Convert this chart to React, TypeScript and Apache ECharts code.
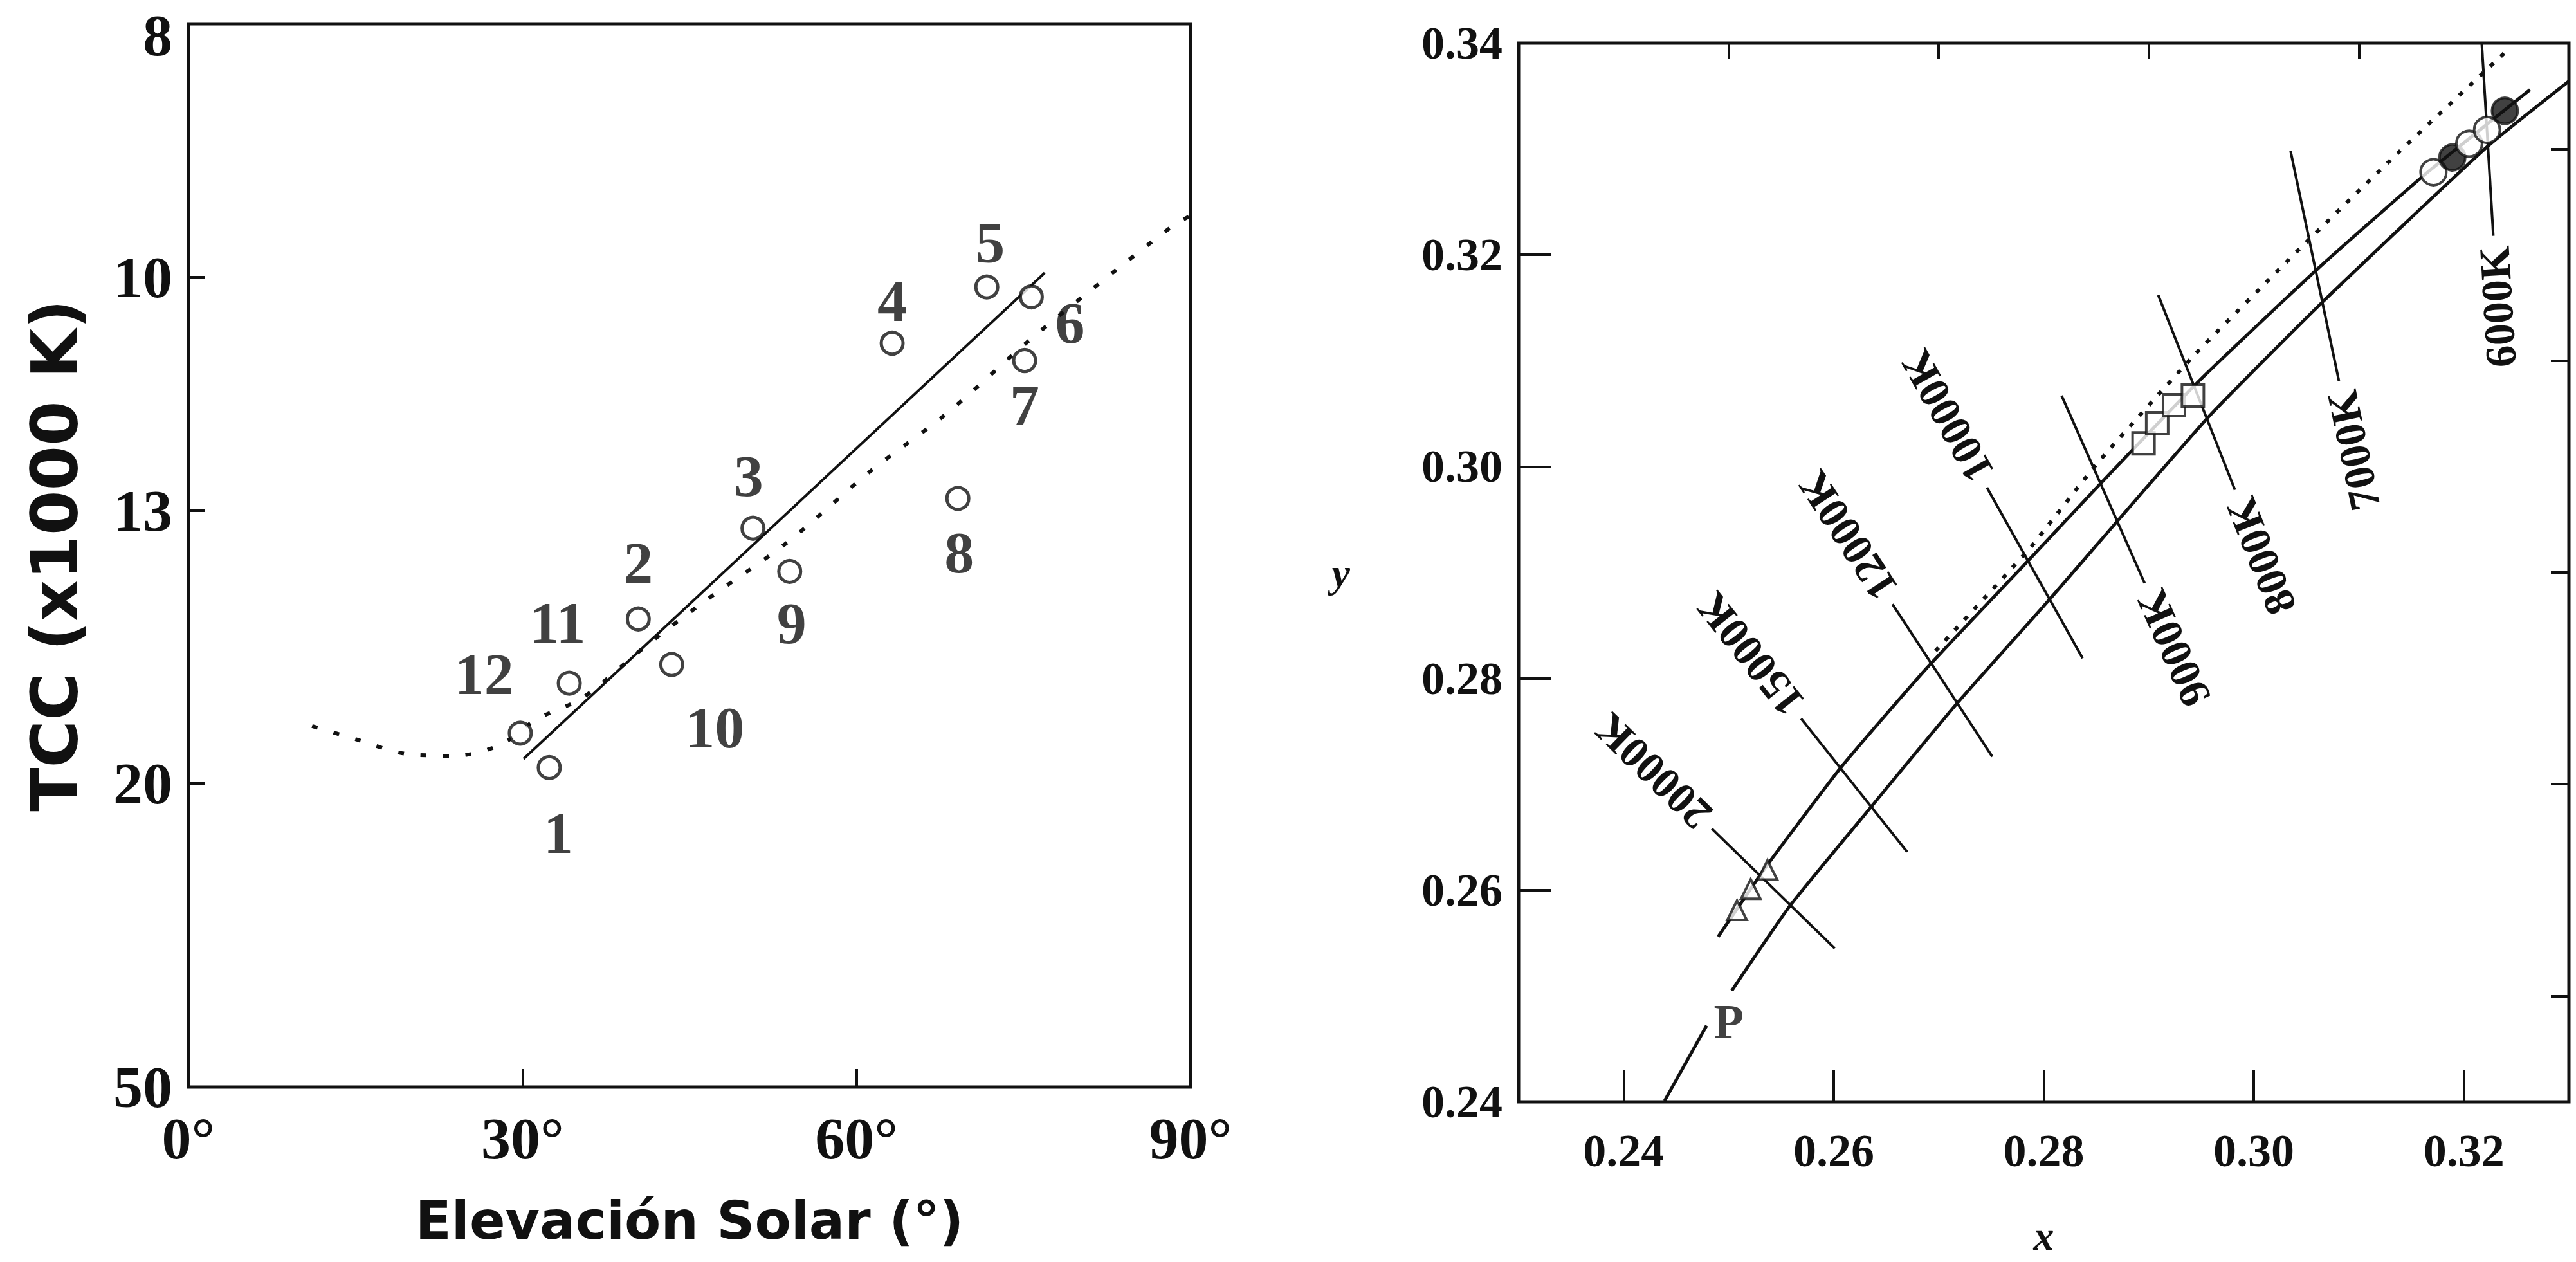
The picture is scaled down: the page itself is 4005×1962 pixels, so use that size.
import React, { useEffect, useRef } from "react";
import * as echarts from "echarts";

// ---------- Left panel: daylight colour temperature vs. solar elevation ----------
const pointIds = ["1", "2", "3", "4", "5", "6", "7", "8", "9", "10", "11", "12"];
const elevation = [32.4, 40.4, 50.7, 63.2, 71.7, 75.7, 75.1, 69.1, 54.0, 43.4, 34.2, 29.8];
const tcc = [19.4, 15.1, 13.3, 10.7, 10.1, 10.2, 10.9, 12.8, 14.1, 16.2, 16.7, 18.2];

// straight fit through the measurements
const fitElev = [30.1, 76.9];
const fitTcc = [19.08, 9.96];

// dotted reference curve
const curveElev = [11.1, 15.1, 19.5, 24.0, 28.0, 31.3, 35.4, 41.0, 46.6, 53.8, 61.2, 68.0, 75.5, 81.4, 88.4, 90];
const curveTcc = [17.97, 18.41, 18.9, 18.97, 18.59, 17.75, 17.11, 15.75, 14.67, 13.55, 12.38, 11.57, 10.67, 10.1, 9.52, 9.43];

const elevTicks = [0, 30, 60, 90];
const tccTicks = [8, 10, 13, 20, 50];

// label offsets (px) for the point numbers
const idOffsets = [
  [14, 102], [0, -87], [-7, -81], [0, -66], [5, -69], [60, 41],
  [0, 69], [2, 84], [3, 81], [67, 98], [-18, -94], [-56, -92],
];

// ---------- Right panel: CIE 1931 chromaticity (x, y) ----------
const xTicksMajor = [0.24, 0.26, 0.28, 0.3, 0.32];
const xTicksMinor = [0.25, 0.27, 0.29, 0.31];
const yTicksLabel = [0.24, 0.26, 0.28, 0.3, 0.32, 0.34];
const yTicksMajor = [0.26, 0.28, 0.3, 0.32];
const yTicksMinor = [0.25, 0.27, 0.29, 0.31, 0.33];

// Planckian locus (broken at the "P" mark)
const planckTailX = [0.2439, 0.2479];
const planckTailY = [0.2401, 0.2472];
const planckX = [0.2503, 0.2559, 0.2636, 0.2718, 0.2805, 0.2956, 0.3067, 0.3222, 0.33];
const planckY = [0.2505, 0.2586, 0.2679, 0.2777, 0.2874, 0.3046, 0.3157, 0.3302, 0.3364];

// upper (daylight) locus
const dayX = [0.249, 0.2537, 0.2607, 0.2688, 0.2786, 0.2856, 0.295, 0.3061, 0.3163, 0.3263];
const dayY = [0.2556, 0.2624, 0.2716, 0.2809, 0.2912, 0.2986, 0.3083, 0.3187, 0.3276, 0.3356];

// dotted locus
const dotX = [0.2697, 0.2786, 0.285, 0.2944, 0.305, 0.3137, 0.324];
const dotY = [0.2826, 0.2922, 0.3002, 0.3106, 0.3212, 0.3296, 0.3392];

// iso-temperature lines
const isoNames = ["20000K", "15000K", "12000K", "10000K", "9000K", "8000K", "7000K", "6000K"];
const isoX1 = [0.2484, 0.2569, 0.2656, 0.2746, 0.2817, 0.2909, 0.3035, 0.3217];
const isoY1 = [0.2658, 0.2762, 0.287, 0.298, 0.3067, 0.3162, 0.3298, 0.34];
const isoX2 = [0.2601, 0.267, 0.2751, 0.2837, 0.2896, 0.2982, 0.3081, 0.3228];
const isoY2 = [0.2545, 0.2636, 0.2726, 0.2819, 0.289, 0.2978, 0.3081, 0.3218];
const isoLabelAtTop = [true, true, true, true, false, false, false, false];

// measured chromaticities
const triX = [0.2537, 0.2521, 0.2508];
const triY = [0.2619, 0.2601, 0.2581];
const sqX = [0.2895, 0.2908, 0.2924, 0.2942];
const sqY = [0.3022, 0.3041, 0.3058, 0.3067];
const circX = [0.3171, 0.3189, 0.3205, 0.3222, 0.3239];
const circY = [0.3278, 0.3292, 0.3305, 0.3318, 0.3336];
const circFilled = [false, true, false, false, true];

const pMark = [0.25, 0.2476];

const INK = "#111";
const SERIF = "'Liberation Serif', 'Times New Roman', serif";
const SANS = "'DejaVu Sans', 'Liberation Sans', sans-serif";

const zip = (a: number[], b: number[]) => a.map((v, i) => [v, b[i]]);
const mired = (t: number) => 1000 / t;

function buildOption(): any {
  const tickStyle = { color: INK, width: 4 };
  const leftTickFont = { fontFamily: SERIF, fontSize: 92, fontWeight: "bold", color: INK, lineHeight: 64 };
  const topTcc = tccTicks[0];
  const frame = {
    show: true, borderColor: INK, borderWidth: 5, backgroundColor: "transparent",
    containLabel: false, outerBoundsMode: "none",
  };
  return {
    animation: false,
    backgroundColor: "#fff",
    grid: [
      { left: 293, top: 37, width: 1558, height: 1653, ...frame },
      { left: 2361, top: 67, width: 1633, height: 1646, ...frame },
    ],
    xAxis: [
      {
        gridIndex: 0, type: "value", min: 0, max: 90, interval: 30,
        axisLine: { show: false }, splitLine: { show: false },
        axisTick: { show: true, inside: true, length: 28, lineStyle: tickStyle, customValues: elevTicks },
        axisLabel: {
          customValues: elevTicks, formatter: (v: number) => `${v}°`, color: INK,
          fontFamily: SERIF, fontSize: 92, fontWeight: "bold", margin: 34,
        },
        name: "Elevación Solar (°)", nameLocation: "middle", nameGap: 166,
        nameTextStyle: { fontFamily: SANS, fontSize: 82, color: INK, fontWeight: "bold" },
      },
      {
        gridIndex: 1, type: "value", min: 0.23, max: 0.33,
        axisLine: { show: false }, splitLine: { show: false },
        axisTick: { show: true, inside: true, length: 50, lineStyle: tickStyle, customValues: xTicksMajor },
        axisLabel: {
          customValues: xTicksMajor, formatter: (v: number) => v.toFixed(2), color: INK,
          fontFamily: SERIF, fontSize: 72, fontWeight: "bold", margin: 40,
        },
        name: "x", nameLocation: "middle", nameGap: 176,
        nameTextStyle: { fontFamily: SERIF, fontSize: 64, fontStyle: "italic", fontWeight: "bold", color: INK },
      },
      {
        gridIndex: 1, type: "value", min: 0.23, max: 0.33,
        axisLine: { show: false }, splitLine: { show: false }, axisLabel: { show: false },
        axisTick: { show: true, inside: true, length: 25, lineStyle: tickStyle, customValues: xTicksMinor },
      },
    ],
    yAxis: [
      {
        gridIndex: 0, type: "value", min: mired(50), max: mired(8),
        axisLine: { show: false }, splitLine: { show: false },
        axisTick: { show: true, inside: true, length: 25, lineStyle: tickStyle, customValues: tccTicks.map(mired) },
        axisLabel: {
          customValues: tccTicks.map(mired),
          formatter: (v: number) => {
            const t = Math.round(1000 / v);
            // the top label sits a little below the frame corner
            return t === topTcc ? `{top|${t}}` : `{n|${t}}`;
          },
          margin: 25,
          rich: {
            n: { ...leftTickFont },
            top: { ...leftTickFont, padding: [36, 0, 0, 0] },
          },
        },
        name: "TCC (x1000 K)", nameLocation: "middle", nameGap: 158, nameRotate: 90,
        nameTextStyle: { fontFamily: SANS, fontSize: 100, color: INK, fontWeight: "bold" },
      },
      {
        gridIndex: 1, type: "value", min: 0.24, max: 0.34,
        axisLine: { show: false }, splitLine: { show: false },
        axisTick: { show: true, inside: true, length: 50, lineStyle: tickStyle, customValues: yTicksMajor },
        axisLabel: {
          customValues: yTicksLabel, formatter: (v: number) => v.toFixed(2), color: INK,
          fontFamily: SERIF, fontSize: 72, fontWeight: "bold", margin: 25, lineHeight: 56,
        },
        name: "y", nameLocation: "middle", nameGap: 262, nameRotate: 0,
        nameTextStyle: { fontFamily: SERIF, fontSize: 64, fontStyle: "italic", fontWeight: "bold", color: INK, padding: [140, 0, 0, 0] },
      },
      {
        gridIndex: 1, type: "value", min: 0.24, max: 0.34,
        axisLine: { show: false }, splitLine: { show: false }, axisLabel: { show: false },
        axisTick: { show: true, inside: true, length: 28, lineStyle: tickStyle, customValues: yTicksMinor },
      },
    ],
    series: [
      // ---- left panel ----
      {
        type: "line", xAxisIndex: 0, yAxisIndex: 0, showSymbol: false, smooth: 0.3,
        data: curveElev.map((e, i) => [e, mired(curveTcc[i])]),
        lineStyle: { color: INK, width: 6, type: [9, 26] },
      },
      {
        type: "line", xAxisIndex: 0, yAxisIndex: 0, showSymbol: false,
        data: fitElev.map((e, i) => [e, mired(fitTcc[i])]),
        lineStyle: { color: INK, width: 4 },
      },
      {
        type: "scatter", xAxisIndex: 0, yAxisIndex: 0, z: 5,
        symbol: "circle", symbolSize: 34,
        itemStyle: { color: "#fff", borderColor: INK, borderWidth: 5 },
        data: elevation.map((e, i) => ({
          value: [e, mired(tcc[i])],
          label: { offset: idOffsets[i] },
        })),
        label: {
          show: true, position: "inside", color: INK, fontFamily: SERIF, fontSize: 92, fontWeight: "bold",
          formatter: (p: any) => pointIds[p.dataIndex],
        },
      },
      // ---- right panel ----
      {
        type: "line", xAxisIndex: 1, yAxisIndex: 1, showSymbol: false,
        data: zip(planckTailX, planckTailY), lineStyle: { color: INK, width: 5 },
      },
      {
        type: "line", xAxisIndex: 1, yAxisIndex: 1, showSymbol: false, smooth: 0.15,
        data: zip(planckX, planckY), lineStyle: { color: INK, width: 5 },
      },
      {
        type: "line", xAxisIndex: 1, yAxisIndex: 1, showSymbol: false, smooth: 0.15,
        data: zip(dayX, dayY), lineStyle: { color: INK, width: 5 },
      },
      {
        type: "line", xAxisIndex: 1, yAxisIndex: 1, showSymbol: false, smooth: 0.15,
        data: zip(dotX, dotY), lineStyle: { color: INK, width: 6, type: [7, 15] },
      },
      {
        type: "lines", coordinateSystem: "cartesian2d", xAxisIndex: 1, yAxisIndex: 1,
        data: isoNames.map((_, i) => ({ coords: [[isoX1[i], isoY1[i]], [isoX2[i], isoY2[i]]] })),
        lineStyle: { color: INK, width: 4, opacity: 1 },
      },
      {
        type: "scatter", xAxisIndex: 1, yAxisIndex: 1, z: 5, symbol: "triangle", symbolSize: 30,
        itemStyle: { color: "#fff", borderColor: INK, borderWidth: 4 },
        data: zip(triX, triY),
      },
      {
        type: "scatter", xAxisIndex: 1, yAxisIndex: 1, z: 5, symbol: "rect", symbolSize: 34,
        itemStyle: { color: "#fff", borderColor: INK, borderWidth: 4 },
        data: zip(sqX, sqY),
      },
      {
        type: "scatter", xAxisIndex: 1, yAxisIndex: 1, z: 5, symbol: "circle", symbolSize: 40,
        data: circX.map((x, i) => ({
          value: [x, circY[i]],
          itemStyle: { color: circFilled[i] ? INK : "#fff", borderColor: INK, borderWidth: 4 },
        })),
      },
      {
        type: "scatter", xAxisIndex: 1, yAxisIndex: 1, symbolSize: 0,
        data: [pMark],
        label: { show: true, position: "inside", formatter: "P", color: INK, fontFamily: SERIF, fontSize: 76, fontWeight: "bold" },
      },
    ],
  };
}

export default function App() {
  const ref = useRef<HTMLDivElement>(null);
  useEffect(() => {
    if (!ref.current) return;
    const chart = echarts.init(ref.current, null, { renderer: "svg" });
    chart.setOption(buildOption());

    // iso-temperature names, laid along each line's extension
    const gap = 16;
    const texts = isoNames.map((name, i) => {
      const a = chart.convertToPixel({ gridIndex: 1 }, [isoX1[i], isoY1[i]]) as number[];
      const b = chart.convertToPixel({ gridIndex: 1 }, [isoX2[i], isoY2[i]]) as number[];
      const dx = b[0] - a[0];
      const dy = b[1] - a[1];
      const len = Math.hypot(dx, dy);
      const ux = dx / len;
      const uy = dy / len;
      const rotation = Math.atan2(uy, -ux);
      const top = isoLabelAtTop[i];
      const x = top ? a[0] - gap * ux : b[0] + gap * ux;
      const y = top ? a[1] - gap * uy : b[1] + gap * uy;
      return {
        type: "text", x, y, rotation, silent: true, z: 10,
        style: {
          text: name, fill: INK, fontFamily: SERIF, fontSize: 68, fontWeight: "bold",
          align: top ? "left" : "right", verticalAlign: "middle",
        },
      };
    });
    chart.setOption({ graphic: texts });

    return () => chart.dispose();
  }, []);
  return (
    <div
      ref={ref}
      style={{ position: "absolute", left: 0, top: 0, width: 4005, height: 1962, background: "#fff" }}
    />
  );
}
